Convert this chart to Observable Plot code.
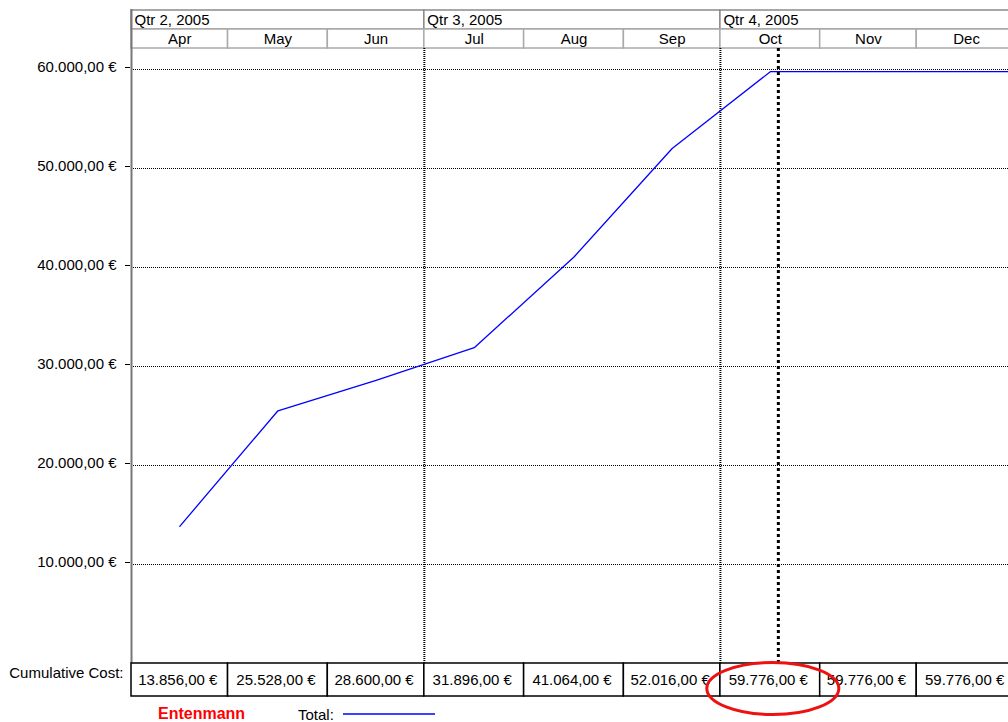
<!DOCTYPE html>
<html><head><meta charset="utf-8">
<script src="https://cdn.jsdelivr.net/npm/d3@7"></script>
<script src="https://cdn.jsdelivr.net/npm/@observablehq/plot@0.6"></script>
<style>
html,body{margin:0;padding:0;overflow:hidden;background:#fff;}
#wrap{position:relative;width:1008px;height:722px;overflow:hidden;font-family:"Liberation Sans",Arial,sans-serif;}
#wrap svg{position:absolute;left:0;overflow:visible;}
.leg{position:absolute;white-space:nowrap;}
</style></head><body><div id="wrap"></div>
<script>
// ---- data ----
const months = ["Apr","May","Jun","Jul","Aug","Sep","Oct","Nov","Dec"];
const monthStarts = ["2005-04-01","2005-05-01","2005-06-01","2005-07-01","2005-08-01","2005-09-01","2005-10-01","2005-11-01","2005-12-01"];
const timelineEnd = "2006-01-01";
const quarters = ["Qtr 2, 2005","Qtr 3, 2005","Qtr 4, 2005"];
const quarterStarts = ["2005-04-01","2005-07-01","2005-10-01"];
const cumulativeCost = [13856,25528,28600,31896,41064,52016,59776,59776,59776];
const yTicks = [10000,20000,30000,40000,50000,60000];
const statusDate = "2005-10-19";
const rowLabel = "Cumulative Cost:";
const resourceName = "Entenmann";
const seriesName = "Total:";

// ---- helpers ----
const parse = d3.utcParse("%Y-%m-%d");
const loc = d3.formatLocale({decimal:",", thousands:".", grouping:[3], currency:["",""]});
const euro = v => loc.format(",.2f")(v) + " €";
const tStart = parse(monthStarts[0]), tEnd = parse(timelineEnd);
const monthCells = months.map((m,i) => {
  const s = parse(monthStarts[i]), e = parse(monthStarts[i+1] ?? timelineEnd);
  return {label:m, start:s, end:e, mid:new Date((+s + +e)/2), value:cumulativeCost[i]};
});
const quarterCells = quarters.map((q,i) => ({label:q, start:parse(quarterStarts[i]), end:parse(quarterStarts[i+1] ?? timelineEnd)}));
const lineData = monthCells.map(d => ({date:d.mid, value:d.value}));
lineData.push({date:tEnd, value:cumulativeCost[cumulativeCost.length-1]});
const status = parse(statusDate);

const FONT = '"Liberation Sans", Arial, sans-serif';
const xScale = {type:"utc", domain:[tStart, tEnd], range:[131, 1016], axis:null};
const wrap = document.getElementById("wrap");

// ---- header ----
const header = Plot.plot({
  width:1008, height:48, marginLeft:131, marginRight:0, marginTop:9, marginBottom:0,
  style:{fontFamily:FONT, fontSize:"15px", color:"#000"},
  x:xScale,
  y:{type:"band", domain:["q","m"], padding:0, axis:null},
  marks:[
    Plot.barX(quarterCells, {x1:"start", x2:"end", y:() => "q", fill:"#fff", stroke:"#8a8a8a", strokeWidth:1.5}),
    Plot.barX(monthCells, {x1:"start", x2:"end", y:() => "m", fill:"#fff", stroke:"#aaaaaa", strokeWidth:1.5}),
    Plot.ruleX(quarterCells.slice(1), {x:"start", y:() => "m", stroke:"#000", strokeWidth:2, strokeDasharray:"1,1"}),
    Plot.ruleX([tStart], {stroke:"#777", strokeWidth:2}),
    Plot.text(quarterCells, {x:"start", y:() => "q", text:"label", textAnchor:"start", dx:3, fill:"#000"}),
    Plot.text(monthCells, {x:"mid", y:() => "m", text:"label", fill:"#000"})
  ]
});
header.style.top = "0px";
wrap.appendChild(header);

// ---- main chart ----
const main = Plot.plot({
  width:1008, height:615, marginLeft:131, marginRight:0, marginTop:0, marginBottom:0,
  style:{fontFamily:FONT, fontSize:"15px", color:"#000"},
  x:xScale,
  y:{domain:[0,60000], range:[615,21]},
  marks:[
    Plot.ruleY(yTicks, {stroke:"#000", strokeWidth:1.2, strokeDasharray:"1,1"}),
    Plot.ruleX(quarterCells.slice(1), {x:"start", stroke:"#000", strokeWidth:2, strokeDasharray:"1,1"}),
    Plot.ruleX([tStart], {stroke:"#777", strokeWidth:2}),
    Plot.line(lineData, {x:"date", y:"value", stroke:"#0000ff", strokeWidth:1.3}),
    Plot.ruleX([status], {stroke:"#000", strokeWidth:3, strokeDasharray:"3,3"}),
    Plot.axisY(yTicks, {tickFormat:euro, tickSize:5, tickPadding:9, dx:-1, dy:-2, label:null, stroke:"#000", fill:"#000"})
  ]
});
main.style.top = "48px";
wrap.appendChild(main);

// ---- table ----
const table = Plot.plot({
  width:1008, height:59, marginLeft:131, marginRight:0, marginTop:0, marginBottom:26,
  style:{fontFamily:FONT, fontSize:"15px", color:"#000", background:"transparent"},
  x:xScale,
  y:{type:"band", domain:["cost"], padding:0, axis:null},
  marks:[
    Plot.barX(monthCells, {x1:"start", x2:"end", y:() => "cost", fill:"#fff", stroke:"#000", strokeWidth:1.5}),
    Plot.text(monthCells, {x:"mid", y:() => "cost", text:d => euro(d.value), dx:-2, fill:"#000"}),
    Plot.text([rowLabel], {x:() => tStart, y:() => "cost", text:d => d, textAnchor:"end", dx:-8, dy:-7, fill:"#000"})
  ]
});
table.style.top = "663px";
wrap.appendChild(table);

// annotation ellipse around the status-date cell
{
  const sx = table.scale("x"), sy = table.scale("y");
  const cell = monthCells.find(d => status >= d.start && status < d.end);
  const cx = sx.apply(cell.mid) + 3;
  const cy = sy.apply("cost") + sy.bandwidth/2 + 9;
  d3.select(table).append("ellipse")
    .attr("cx", cx).attr("cy", cy).attr("rx", 66).attr("ry", 26)
    .attr("fill", "none").attr("stroke", "#ee1111").attr("stroke-width", 3);
}

// ---- legend ----
const l1 = document.createElement("div");
l1.className = "leg";
l1.textContent = resourceName;
Object.assign(l1.style, {left:"158px", top:"706px", font:"bold 16px " + FONT, lineHeight:"16px", color:"#ff0000"});
wrap.appendChild(l1);
const l2 = document.createElement("div");
l2.className = "leg";
l2.textContent = seriesName;
Object.assign(l2.style, {left:"298px", top:"707px", font:"15px " + FONT, lineHeight:"15px", color:"#000"});
wrap.appendChild(l2);
const legSwatch = d3.create("svg").attr("width", 92).attr("height", 6)
  .style("position", "absolute").style("left", "343px").style("top", "711px");
legSwatch.append("line").attr("x1", 0).attr("x2", 92).attr("y1", 3).attr("y2", 3)
  .attr("stroke", "#0000ff").attr("stroke-width", 1.3);
wrap.appendChild(legSwatch.node());
</script>
</body></html>
